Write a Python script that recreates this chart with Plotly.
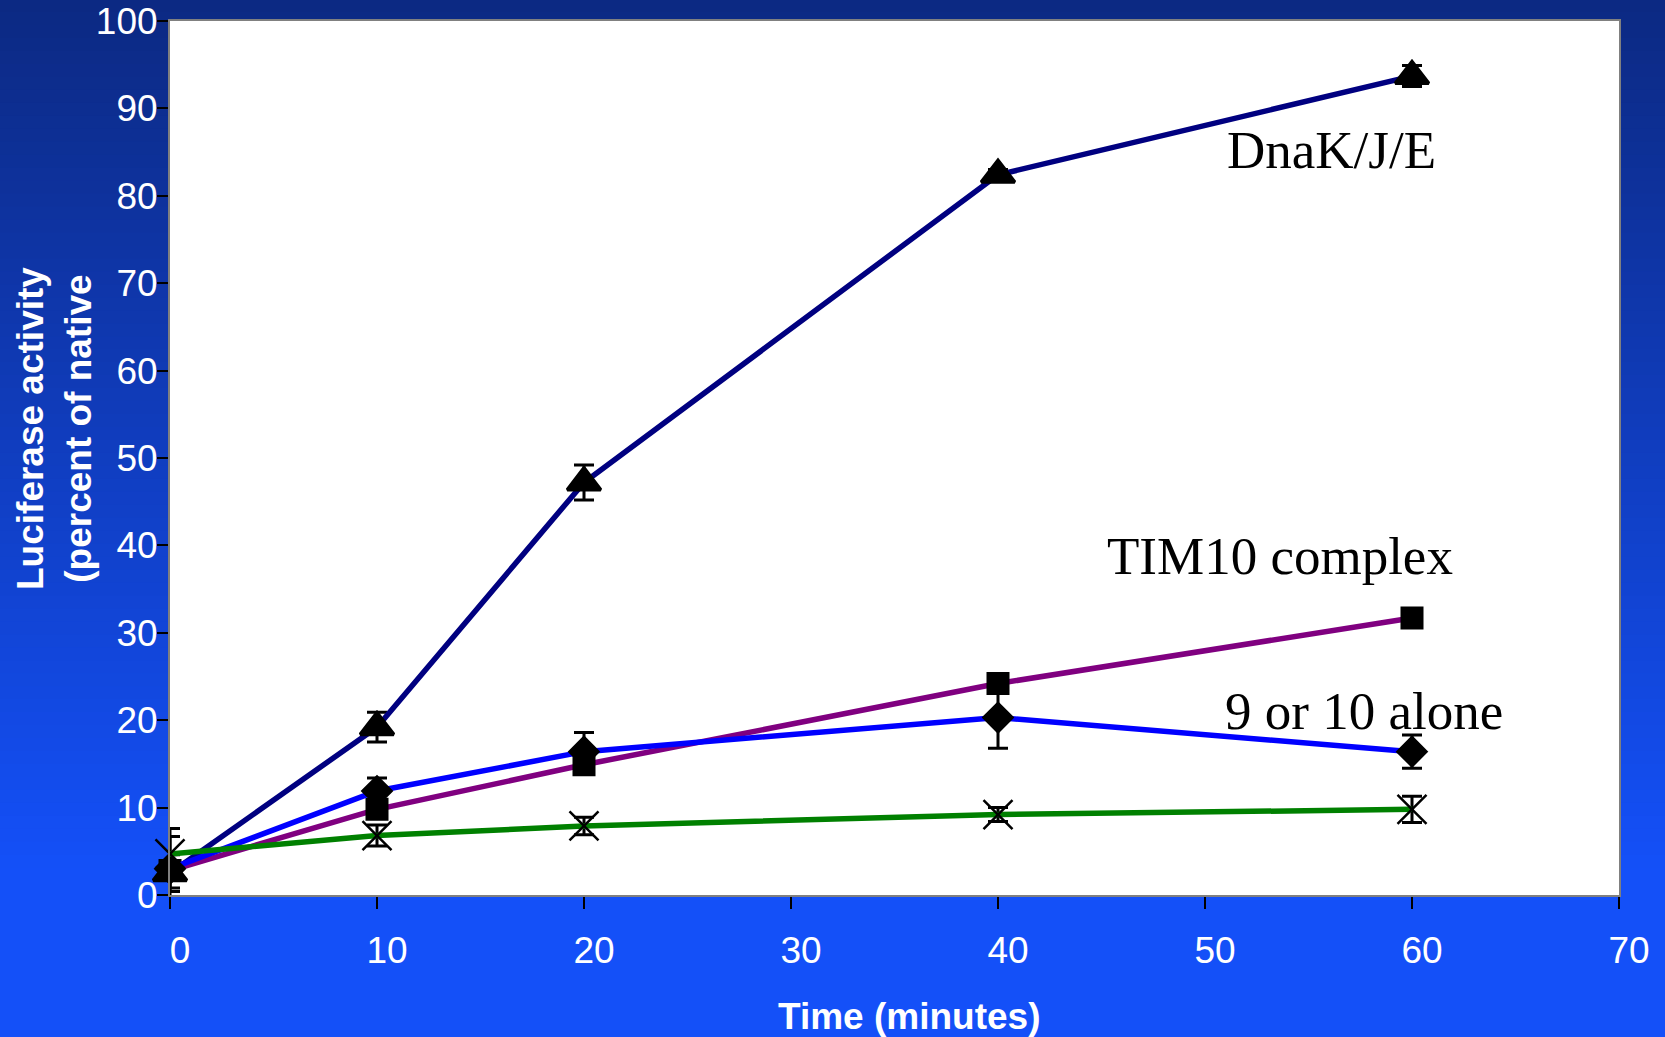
import plotly.graph_objects as go

# ---- data ----
time_min = [0, 10, 20, 40, 60]

dnak_vals = [2.5, 19.2, 47.2, 82.4, 93.7]
dnak_err = [2.1, 1.7, 2.0, 0.6, 1.2]

tim10_vals = [2.8, 9.8, 14.9, 24.2, 31.7]
tim10_err = [2.0, 0.8, 0.8, 0.6, 0.5]

alone_vals = [3.0, 11.9, 16.4, 20.3, 16.4]
alone_err = [3.7, 1.5, 2.2, 3.5, 1.9]

control_vals = [4.7, 6.8, 7.9, 9.2, 9.8]
control_err = [2.9, 1.2, 1.0, 0.8, 1.5]

x_ticks = [0, 10, 20, 30, 40, 50, 60, 70]
y_ticks = [0, 10, 20, 30, 40, 50, 60, 70, 80, 90, 100]

labels = [
    ("DnaK/J/E", 56.1, 85.2),
    ("TIM10 complex", 53.6, 38.8),
    ("9 or 10 alone", 57.7, 21.0),
]

# ---- figure ----
W, H = 1665, 1037
L, R, T, B = 170, 46, 21, 142
pw, ph = W - L - R, H - T - B

fig = go.Figure()

series = [
    (dnak_vals, dnak_err, "#000080", "triangle-up", 29, 3.5),
    (tim10_vals, tim10_err, "#800080", "square", 21, 2),
    (alone_vals, alone_err, "#0000FF", "diamond", 23, 2),
    (control_vals, control_err, "#008000", "x-thin-open", 29, 2.5),
]
for vals, err, col, sym, sz, lw in series:
    fig.add_trace(go.Scatter(
        x=time_min, y=vals, mode="lines+markers",
        line=dict(color=col, width=5.5),
        marker=dict(symbol=sym, size=sz, color="black",
                    line=dict(color="black", width=lw)),
        error_y=dict(type="data", array=err, visible=True,
                     color="black", thickness=3, width=10),
        cliponaxis=False, showlegend=False, hoverinfo="skip",
    ))

# gradient background (vertical) via stripes
def lerp(a, b, t):
    return int(round(a + (b - a) * t))

top_c = (0x0C, 0x29, 0x82)
bot_c = (0x14, 0x50, 0xF8)
n = 80
grad_end = 870  # px where gradient reaches bottom colour
shapes = []
for i in range(n):
    y0px = H * i / n
    y1px = H * (i + 1) / n
    t = min(1.0, ((y0px + y1px) / 2) / grad_end)
    c = "rgb(%d,%d,%d)" % tuple(lerp(top_c[k], bot_c[k], t) for k in range(3))
    shapes.append(dict(
        type="rect", xref="paper", yref="paper", layer="below",
        x0=-L / pw - 0.01, x1=1 + R / pw + 0.01,
        y0=(H - B - y1px) / ph - 0.001, y1=(H - B - y0px) / ph + 0.001,
        fillcolor=c, line=dict(width=0),
    ))
# white plotting area on top of the gradient
shapes.append(dict(
    type="rect", xref="paper", yref="paper", layer="below",
    x0=0, x1=1, y0=0, y1=1, fillcolor="white", line=dict(width=0),
))

annotations = []
for txt, xv, yv in labels:
    annotations.append(dict(
        text=txt, x=xv, y=yv, xref="x", yref="y", showarrow=False,
        xanchor="center", yanchor="middle",
        font=dict(family="Liberation Serif, Times New Roman, serif", size=53, color="black"),
    ))

annotations.append(dict(
    text="<b>Luciferase activity<br>(percent of native</b>",
    x=(54 - L) / pw, y=(H - B - 429) / ph, xref="paper", yref="paper",
    showarrow=False, textangle=-90, xanchor="center", yanchor="middle",
    font=dict(family="Liberation Sans, Arial, sans-serif", size=37, color="white"),
))
annotations.append(dict(
    text="<b>Time (minutes)</b>",
    x=(909 - L) / pw, y=(H - B - 1016) / ph, xref="paper", yref="paper",
    showarrow=False, xanchor="center", yanchor="middle",
    font=dict(family="Liberation Sans, Arial, sans-serif", size=37, color="white"),
))

fig.update_layout(
    width=W, height=H,
    margin=dict(l=L, r=R, t=T, b=B, pad=0, autoexpand=False),
    paper_bgcolor="#0C2982",
    plot_bgcolor="white",
    shapes=shapes,
    annotations=annotations,
    hovermode=False,
    font=dict(family="Liberation Sans, Arial, sans-serif", color="white", size=37),
    xaxis=dict(
        range=[0, 70], tickmode="array", tickvals=x_ticks,
        ticktext=[str(v) for v in x_ticks],
        ticks="outside", ticklen=12, tickwidth=1.5, tickcolor="black",
        showgrid=False, zeroline=False, automargin=False,
        showline=True, linecolor="#808080", linewidth=2, mirror=True,
        tickfont=dict(size=37, color="white"),
        ticklabelstandoff=10, ticklabelshift=10,
    ),
    yaxis=dict(
        range=[0, 100], tickmode="array", tickvals=y_ticks,
        ticktext=[str(v) for v in y_ticks],
        ticks="outside", ticklen=11, tickwidth=1.5, tickcolor="black",
        showgrid=False, zeroline=False, automargin=False,
        showline=True, linecolor="#808080", linewidth=2, mirror=True,
        tickfont=dict(size=37, color="white"),
        ticklabelstandoff=-8,
    ),
)

fig.write_html(
    "out.html",
    config={"displayModeBar": False},
    post_script="document.body.style.margin='0px';document.body.style.background='#1450F8';",
)
